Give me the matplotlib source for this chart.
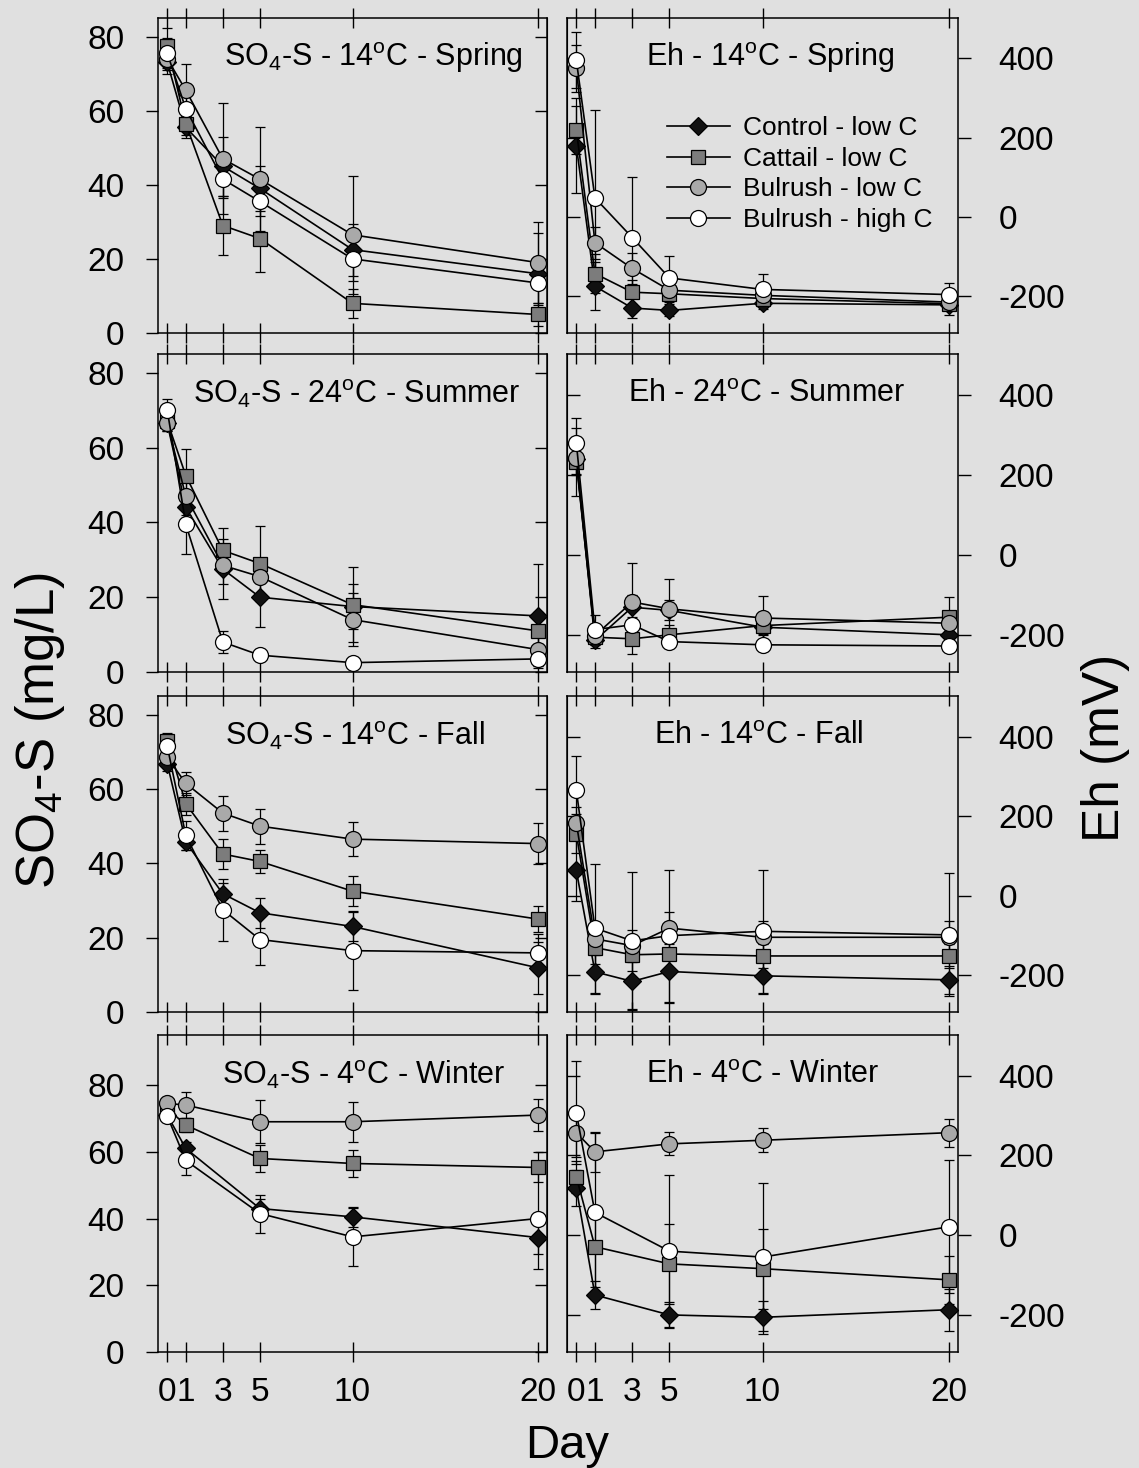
import matplotlib
matplotlib.use('Agg')
import matplotlib.pyplot as plt

plt.rcParams['font.family'] = ['Liberation Sans', 'DejaVu Sans']
plt.rcParams['mathtext.fontset'] = 'custom'
plt.rcParams['mathtext.rm'] = 'Liberation Sans'
plt.rcParams['mathtext.it'] = 'Liberation Sans:italic'
plt.rcParams['mathtext.bf'] = 'Liberation Sans:bold'
plt.rcParams['axes.unicode_minus'] = False

# ---------------- data ----------------
days = [0, 1, 3, 5, 10, 20]
days_winter = [0, 1, 5, 10, 20]
series_names = ['Control - low C', 'Cattail - low C', 'Bulrush - low C', 'Bulrush - high C']

so4_ticks = [0, 20, 40, 60, 80]
eh_ticks = [-200, 0, 200, 400]
day_ticks = [0, 1, 3, 5, 10, 20]

# Spring 14C
so4_spring_control = [73, 55.5, 45, 39, 22.5, 16]
so4_spring_cattail = [77.5, 56.5, 29, 25.5, 8, 5]
so4_spring_bul_low = [74, 65.5, 47, 41.5, 26.5, 19]
so4_spring_bul_high = [75.5, 60.5, 41.5, 35.5, 20, 13.5]
so4_spring_control_err = [3, 3, 8, 6, 7, 11]
so4_spring_cattail_err = [4.7, 3, 8, 9, 4, 3]
so4_spring_bul_low_err = [3, 7, 15, 14, 16, 11]
so4_spring_bul_high_err = [4, 4, 5, 4, 6, 6]

eh_spring_control = [180, -175, -230, -236, -218, -222]
eh_spring_cattail = [220, -143, -190, -194, -206, -219]
eh_spring_bul_low = [375, -65, -130, -185, -198, -215]
eh_spring_bul_high = [396, 48, -52, -154, -183, -196]
eh_spring_control_err = [120, 60, 25, 15, 15, 25]
eh_spring_cattail_err = [60, 50, 30, 20, 15, 15]
eh_spring_bul_low_err = [60, 40, 40, 20, 15, 15]
eh_spring_bul_high_err = [70, 223, 153, 56, 38, 30]

# Summer 24C
so4_summer_control = [66.5, 44, 27.5, 20, 17.5, 15]
so4_summer_cattail = [67, 52.5, 32.5, 29, 18, 11]
so4_summer_bul_low = [66.5, 47, 28.5, 25.5, 14, 6]
so4_summer_bul_high = [70, 39.5, 8, 4.5, 2.5, 3.5]
so4_summer_control_err = [2, 4, 8, 8, 6, 14]
so4_summer_cattail_err = [2, 7, 6, 10, 10, 5]
so4_summer_bul_low_err = [2, 5, 5, 5, 7, 4]
so4_summer_bul_high_err = [3, 8, 3, 1, 1, 2]

eh_summer_control = [240, -214, -131, -139, -181, -200]
eh_summer_cattail = [232, -206, -210, -200, -177, -156]
eh_summer_bul_low = [242, -202, -118, -135, -158, -171]
eh_summer_bul_high = [280, -187, -175, -217, -225, -228]
eh_summer_control_err = [40, 20, 30, 25, 20, 15]
eh_summer_cattail_err = [84, 20, 37, 25, 20, 50]
eh_summer_bul_low_err = [40, 20, 98, 75, 55, 30]
eh_summer_bul_high_err = [62, 37, 20, 10, 10, 10]

# Fall 14C
so4_fall_control = [66.8, 45.7, 31.8, 26.7, 23, 11.9]
so4_fall_cattail = [73, 56, 42.5, 40.5, 32.5, 25]
so4_fall_bul_low = [68.5, 61.5, 53.5, 50, 46.5, 45.3]
so4_fall_bul_high = [71.5, 47.5, 27.5, 19.5, 16.5, 15.9]
so4_fall_control_err = [2, 2, 3, 4, 4, 7]
so4_fall_cattail_err = [2, 3, 4, 3, 4, 3.5]
so4_fall_bul_low_err = [3, 3, 4.7, 4.7, 4.5, 5.5]
so4_fall_bul_high_err = [2, 4, 8.4, 6.8, 10.6, 5]

eh_fall_control = [63, -192, -216, -191, -202, -212]
eh_fall_cattail = [156, -131, -149, -147, -152, -152]
eh_fall_bul_low = [183, -109, -126, -82, -105, -105]
eh_fall_bul_high = [265, -82, -114, -101, -90, -99]
eh_fall_control_err = [76, 55, 70, 80, 45, 35]
eh_fall_cattail_err = [50, 40, 40, 40, 30, 30]
eh_fall_bul_low_err = [40, 40, 40, 40, 40, 40]
eh_fall_bul_high_err = [86, 162, 173, 166, 155, 155]

# Winter 4C (no day 3)
so4_winter_control = [71, 61, 43, 40.5, 34.3]
so4_winter_cattail = [73, 68, 58, 56.5, 55.3]
so4_winter_bul_low = [74.5, 74, 69, 69, 71]
so4_winter_bul_high = [70.7, 57.4, 41.5, 34.5, 40]
so4_winter_control_err = [1, 2, 3, 3, 5]
so4_winter_cattail_err = [1, 2, 4, 4, 4.5]
so4_winter_bul_low_err = [1, 4, 6.5, 6, 4.7]
so4_winter_bul_high_err = [1, 4.3, 5.7, 8.7, 15]

eh_winter_control = [118, -150, -200, -206, -187]
eh_winter_cattail = [147, -29, -72, -84, -112]
eh_winter_bul_low = [257, 209, 229, 238, 257]
eh_winter_bul_high = [307, 57, -40, -55, 21]
eh_winter_control_err = [46, 35, 32, 42, 53]
eh_winter_cattail_err = [40, 100, 100, 100, 60]
eh_winter_bul_low_err = [60, 50, 29, 30, 35]
eh_winter_bul_high_err = [129, 200, 190, 186, 167]

# ---------------- styles ----------------
BG = '#e0e0e0'
styles = [
    dict(marker='D', ms=9, fc='#111111'),
    dict(marker='s', ms=10.5, fc='#7c7c7c'),
    dict(marker='o', ms=11.5, fc='#a9a9a9'),
    dict(marker='o', ms=11.5, fc='#ffffff'),
]

W, H = 1139, 1468
fig = plt.figure(figsize=(W / 100, H / 100), dpi=100)
fig.patch.set_facecolor(BG)

rows_px = [(18, 333), (354, 672), (696, 1012), (1035, 1352)]
cols_px = [(158, 547), (567, 958)]


def add_ax(r, c):
    x0, x1 = cols_px[c]
    y0, y1 = rows_px[r]
    ax = fig.add_axes([x0 / W, 1 - y1 / H, (x1 - x0) / W, (y1 - y0) / H])
    ax.set_facecolor(BG)
    for sp in ax.spines.values():
        sp.set_linewidth(1.1)
    return ax


def draw(ax, x, vals_list, err_list):
    handles = []
    for vals, err in zip(vals_list, err_list):
        ax.errorbar(x, vals, yerr=err, fmt='none', ecolor='black',
                    elinewidth=0.9, capsize=3.8, capthick=0.9, zorder=2)
    for vals, st, name in zip(vals_list, styles, series_names):
        h, = ax.plot(x, vals, color='black', lw=1.2, marker=st['marker'],
                     ms=st['ms'], mfc=st['fc'], mec='black', mew=0.9,
                     label=name, zorder=3)
        handles.append(h)
    return handles


def style_axes(ax, col, bottom):
    ax.set_xlim(-0.5, 20.5)
    ax.set_xticks(day_ticks)
    ax.tick_params(axis='x', direction='inout', top=True, bottom=True,
                   length=14, width=1.0, labelsize=24, pad=11,
                   labelbottom=bottom)
    if col == 0:
        ax.set_yticks(so4_ticks)
        ax.tick_params(axis='y', direction='out', left=True, right=False,
                       length=9, width=1.0, labelsize=24, pad=15)
        sec = ax.secondary_yaxis('right')
        sec.set_yticks(so4_ticks)
        sec.tick_params(direction='in', length=9, width=1.0, labelright=False)
    else:
        ax.yaxis.tick_right()
        ax.set_yticks(eh_ticks)
        ax.tick_params(axis='y', direction='out', left=False, right=True,
                       length=9, width=1.0, labelsize=24, pad=20,
                       labelleft=False, labelright=True)
        sec = ax.secondary_yaxis('left')
        sec.set_yticks(eh_ticks)
        sec.tick_params(direction='in', length=9, width=1.0, labelleft=False)


panels = [
    # (row, col, x, data, errs, title, title_x, ylim)
    (0, 0, days,
     [so4_spring_control, so4_spring_cattail, so4_spring_bul_low, so4_spring_bul_high],
     [so4_spring_control_err, so4_spring_cattail_err, so4_spring_bul_low_err, so4_spring_bul_high_err],
     r'SO$_4$-S - 14$^{\mathrm{o}}$C - Spring', 0.555, (0, 85)),
    (0, 1, days,
     [eh_spring_control, eh_spring_cattail, eh_spring_bul_low, eh_spring_bul_high],
     [eh_spring_control_err, eh_spring_cattail_err, eh_spring_bul_low_err, eh_spring_bul_high_err],
     r'Eh - 14$^{\mathrm{o}}$C - Spring', 0.52, (-293, 502)),
    (1, 0, days,
     [so4_summer_control, so4_summer_cattail, so4_summer_bul_low, so4_summer_bul_high],
     [so4_summer_control_err, so4_summer_cattail_err, so4_summer_bul_low_err, so4_summer_bul_high_err],
     r'SO$_4$-S - 24$^{\mathrm{o}}$C - Summer', 0.51, (0, 85)),
    (1, 1, days,
     [eh_summer_control, eh_summer_cattail, eh_summer_bul_low, eh_summer_bul_high],
     [eh_summer_control_err, eh_summer_cattail_err, eh_summer_bul_low_err, eh_summer_bul_high_err],
     r'Eh - 24$^{\mathrm{o}}$C - Summer', 0.51, (-293, 502)),
    (2, 0, days,
     [so4_fall_control, so4_fall_cattail, so4_fall_bul_low, so4_fall_bul_high],
     [so4_fall_control_err, so4_fall_cattail_err, so4_fall_bul_low_err, so4_fall_bul_high_err],
     r'SO$_4$-S - 14$^{\mathrm{o}}$C - Fall', 0.505, (0, 85)),
    (2, 1, days,
     [eh_fall_control, eh_fall_cattail, eh_fall_bul_low, eh_fall_bul_high],
     [eh_fall_control_err, eh_fall_cattail_err, eh_fall_bul_low_err, eh_fall_bul_high_err],
     r'Eh - 14$^{\mathrm{o}}$C - Fall', 0.49, (-293, 502)),
    (3, 0, days_winter,
     [so4_winter_control, so4_winter_cattail, so4_winter_bul_low, so4_winter_bul_high],
     [so4_winter_control_err, so4_winter_cattail_err, so4_winter_bul_low_err, so4_winter_bul_high_err],
     r'SO$_4$-S - 4$^{\mathrm{o}}$C - Winter', 0.53, (0, 95)),
    (3, 1, days_winter,
     [eh_winter_control, eh_winter_cattail, eh_winter_bul_low, eh_winter_bul_high],
     [eh_winter_control_err, eh_winter_cattail_err, eh_winter_bul_low_err, eh_winter_bul_high_err],
     r'Eh - 4$^{\mathrm{o}}$C - Winter', 0.50, (-293, 502)),
]

for r, c, x, vals, errs, title, tx, ylim in panels:
    ax = add_ax(r, c)
    hs = draw(ax, x, vals, errs)
    ax.set_ylim(*ylim)
    style_axes(ax, c, bottom=(r == 3))
    ax.text(tx, 0.875, title, transform=ax.transAxes, ha='center',
            va='center', fontsize=22)
    if r == 0 and c == 1:
        ax.legend(hs, series_names, loc='upper left',
                  bbox_to_anchor=(0.255, 0.688), frameon=False, fontsize=19,
                  handlelength=2.4, handletextpad=0.5, labelspacing=0.25,
                  borderpad=0, borderaxespad=0, numpoints=1)

fig.text(40 / W, 1 - 730 / H, r'SO$_4$-S (mg/L)', rotation=90, ha='center',
         va='center', fontsize=38)
fig.text(1105 / W, 1 - 748 / H, 'Eh (mV)', rotation=90, ha='center',
         va='center', fontsize=37)
fig.text(567 / W, 1 - 1446 / H, 'Day', ha='center', va='center', fontsize=34)

fig.savefig('out.png', dpi=100, facecolor=BG)
